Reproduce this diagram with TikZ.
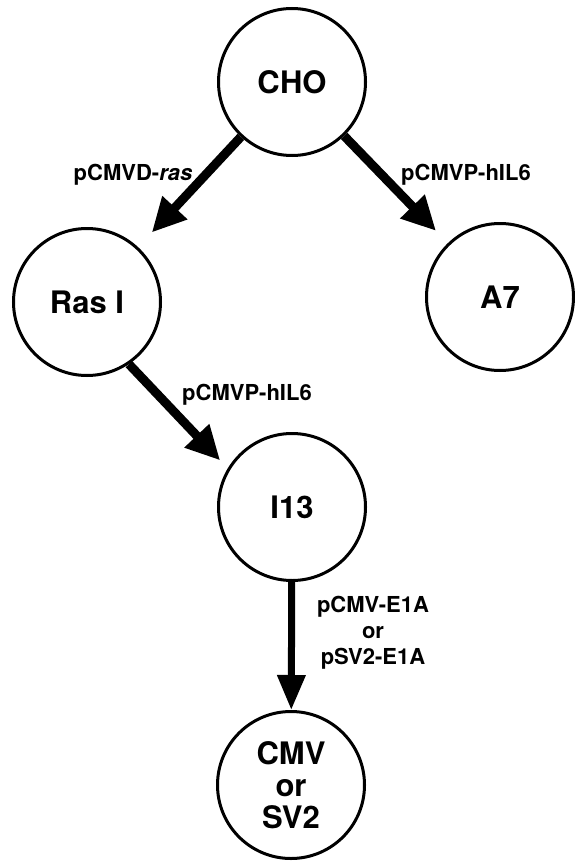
\documentclass[tikz,border=0pt]{standalone}
\usepackage{fontspec}
\setmainfont{TeX Gyre Heros}
\usetikzlibrary{arrows.meta}
\begin{document}
\begin{tikzpicture}[x=1pt,y=-1pt,
  cell/.style={circle,draw,line width=3pt,minimum size=147pt,inner sep=0pt,
    font=\fontsize{31}{32}\selectfont\bfseries,align=center},
  lab/.style={font=\fontsize{22}{26}\selectfont\bfseries,inner sep=0pt,align=center},
  diagarrow/.style={line width=9pt,-{Triangle[length=34pt,width=32pt]}},
  vertarrow/.style={line width=7pt,-{Triangle[length=35pt,width=27pt]}}]
\useasboundingbox (0,0) rectangle (574,861);
\node[cell] (cho) at (292,82) {CHO};
\node[cell] (ras) at (87,302) {Ras I};
\node[cell] (a7) at (500,297) {A7};
\node[cell] (i13) at (292,507) {I13};
\node[cell] (cmv) at (291,785) {CMV\\or\\SV2};
\draw[diagarrow,shorten >=20pt] (cho) -- (ras);
\draw[diagarrow,shorten >=17pt] (cho) -- (a7);
\draw[diagarrow,shorten >=11pt] (ras.-56) -- (i13.149);
\draw[vertarrow] (i13) -- (cmv);
\node[lab,anchor=base] (l1) at (133,180) {pCMVD-\textit{ras}};
\node[lab,anchor=base] (l2) at (466,180) {pCMVP-hIL6};
\node[lab,anchor=base] (l3) at (247,400) {pCMVP-hIL6};
\node[lab] (l4) at (373,633) {pCMV-E1A\\or\\pSV2-E1A};
\end{tikzpicture}
\end{document}
